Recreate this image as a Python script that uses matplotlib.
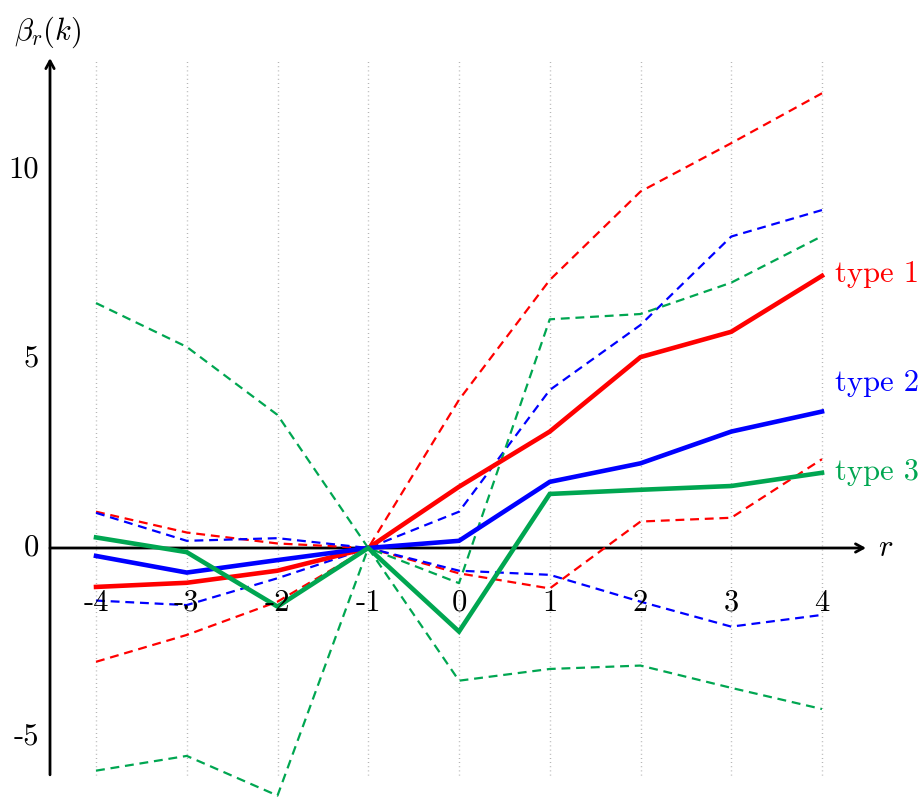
import matplotlib.pyplot as plt
import numpy as np

plt.rcParams['mathtext.fontset'] = 'cm'
plt.rcParams['font.family'] = ['cmr10', 'DejaVu Serif']
plt.rcParams['axes.unicode_minus'] = False

r = [-4, -3, -2, -1, 0, 1, 2, 3, 4]

# point estimates
beta_type1 = [-1.03, -0.92, -0.60, 0.0, 1.62, 3.08, 5.05, 5.72, 7.20]
beta_type2 = [-0.21, -0.65, -0.32, 0.0, 0.19, 1.75, 2.24, 3.08, 3.61]
beta_type3 = [0.28, -0.11, -1.55, 0.0, -2.21, 1.43, 1.54, 1.64, 1.99]

# confidence bands (upper / lower)
upper_type1 = [0.96, 0.41, 0.12, 0.0, 3.92, 7.09, 9.43, 10.71, 12.03]
lower_type1 = [-3.01, -2.30, -1.42, 0.0, -0.67, -1.07, 0.70, 0.80, 2.35]
upper_type2 = [0.93, 0.19, 0.26, 0.0, 0.96, 4.18, 5.90, 8.24, 8.94]
lower_type2 = [-1.39, -1.51, -0.80, 0.0, -0.60, -0.71, -1.42, -2.08, -1.77]
upper_type3 = [6.48, 5.32, 3.52, 0.0, -0.93, 6.05, 6.19, 7.02, 8.25]
lower_type3 = [-5.89, -5.50, -6.55, 0.0, -3.51, -3.20, -3.11, -3.70, -4.26]

ytick_vals = [10, 5, 0, -5]
ytick_labels = ['10', '5', '0', '-5']
type_names = ['type 1', 'type 2', 'type 3']
type_label_y = [7.25, 4.35, 2.0]

red = '#FF0000'
blue = '#0000FF'
green = '#00A651'

fig = plt.figure(figsize=(9.24, 7.97), dpi=100)
ax = fig.add_axes([0, 0, 1, 1])
ax.set_xlim(-5.058, 5.124)
ax.set_ylim(-6.587, 14.497)
ax.axis('off')

# dotted vertical guides
ax.vlines(r, -6.0, 12.9, colors='#a8a8a8', linestyles=(0, (0.6, 2.4)), lw=1.0, zorder=0)

# axes with arrows
arrow = dict(arrowstyle='->,head_length=0.55,head_width=0.3', lw=2.0, color='black',
             shrinkA=0, shrinkB=0)
ax.annotate('', xy=(4.485, 0), xytext=(-4.507, 0), arrowprops=arrow, zorder=1)
ax.annotate('', xy=(-4.507, 12.96), xytext=(-4.507, -6.0), arrowprops=arrow, zorder=1)

dash = (0, (4.0, 2.6))
for lo, hi, c in [(lower_type1, upper_type1, red),
                  (lower_type2, upper_type2, blue),
                  (lower_type3, upper_type3, green)]:
    ax.plot(r, hi, color=c, lw=1.6, linestyle=dash, clip_on=False, zorder=2)
    ax.plot(r, lo, color=c, lw=1.6, linestyle=dash, clip_on=False, zorder=2)

for vals, c in [(beta_type1, red), (beta_type2, blue), (beta_type3, green)]:
    ax.plot(r, vals, color=c, lw=3.3, solid_joinstyle='miter', clip_on=False, zorder=3)

# tick labels
for v in r:
    ax.text(v, -1.45, str(v), ha='center', va='center', fontsize=22, zorder=4)
for v, lab in zip(ytick_vals, ytick_labels):
    ax.text(-4.63, v, lab, ha='right', va='center', fontsize=22)

ax.text(-4.9, 13.65, r'$\beta_r(k)$', ha='left', va='center', fontsize=22)
ax.text(4.62, 0.0, r'$r$', ha='left', va='center', fontsize=22)

for name, y, c in zip(type_names, type_label_y, [red, blue, green]):
    ax.text(4.14, y, name, ha='left', va='center', fontsize=22, color=c)

fig.savefig('out.png', dpi=100)
